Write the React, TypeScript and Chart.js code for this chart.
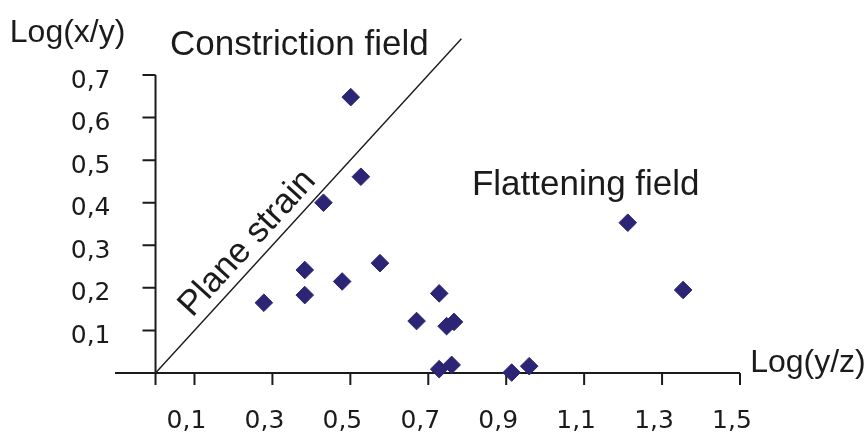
import React, { useEffect, useRef } from "react";
import { Chart, registerables } from "chart.js";

Chart.register(...registerables);

// Sample measurements: Log(y/z) vs Log(x/y)
const logYZ = [0.501, 0.527, 0.431, 0.576, 0.383, 0.479, 0.383, 0.278, 1.212, 1.354, 0.728, 0.670, 0.747, 0.766, 0.728, 0.760, 0.914, 0.959];
const logXY = [0.648, 0.461, 0.400, 0.258, 0.242, 0.215, 0.183, 0.165, 0.353, 0.195, 0.187, 0.122, 0.110, 0.120, 0.009, 0.019, 0.001, 0.016];

// Plane strain line (k = 1)
const planeStrainX = [0, 0.785];
const planeStrainY = [0, 0.785];

// Axis ticks
const xTickValues = [0.1, 0.3, 0.5, 0.7, 0.9, 1.1, 1.3, 1.5];
const xTickLabels = ["0,1", "0,3", "0,5", "0,7", "0,9", "1,1", "1,3", "1,5"];
const yTickValues = [0.1, 0.2, 0.3, 0.4, 0.5, 0.6, 0.7];
const yTickLabels = ["0,1", "0,2", "0,3", "0,4", "0,5", "0,6", "0,7"];

const xRange = [-0.104, 1.5];
const yRange = [-0.0282, 0.7];

const INK = "#1b1b1b";

const axesPlugin = {
  id: "customAxes",
  beforeDatasetsDraw(chart: any) {
    const { ctx, scales } = chart;
    const xs = scales.x;
    const ys = scales.y;
    const x0 = xs.getPixelForValue(0);
    const y0 = ys.getPixelForValue(0);
    ctx.save();
    ctx.strokeStyle = INK;
    ctx.lineWidth = 2;
    ctx.beginPath();
    ctx.moveTo(xs.getPixelForValue(xRange[0]), y0);
    ctx.lineTo(xs.getPixelForValue(xRange[1]), y0);
    ctx.moveTo(x0, ys.getPixelForValue(yRange[0]));
    ctx.lineTo(x0, ys.getPixelForValue(yRange[1]));
    xTickValues.forEach((v) => {
      const px = xs.getPixelForValue(v);
      ctx.moveTo(px, y0);
      ctx.lineTo(px, y0 + 12);
    });
    yTickValues.forEach((v) => {
      const py = ys.getPixelForValue(v);
      ctx.moveTo(x0 - 13, py);
      ctx.lineTo(x0, py);
    });
    ctx.stroke();

    ctx.fillStyle = INK;
    ctx.font = '25px "DejaVu Sans"';
    ctx.textBaseline = "alphabetic";
    ctx.textAlign = "center";
    xTickValues.forEach((v, i) => {
      ctx.fillText(xTickLabels[i], xs.getPixelForValue(v) - 8, y0 + 55);
    });
    ctx.textAlign = "right";
    yTickValues.forEach((v, i) => {
      ctx.fillText(yTickLabels[i], x0 - 45, ys.getPixelForValue(v) + 12.5);
    });

    ctx.textAlign = "left";
    ctx.font = '32px "Liberation Sans"';
    ctx.fillText("Log(x/y)", xs.getPixelForValue(-0.374), ys.getPixelForValue(0.778));
    ctx.fillText("Log(y/z)", xs.getPixelForValue(1.526), ys.getPixelForValue(0.002));

    ctx.font = '35px "Liberation Sans"';
    ctx.fillText("Constriction field", xs.getPixelForValue(0.037), ys.getPixelForValue(0.748));
    ctx.fillText("Flattening field", xs.getPixelForValue(0.812), ys.getPixelForValue(0.418));

    const sx = xs.getPixelForValue(0.094);
    const sy = ys.getPixelForValue(0.129);
    const ang = Math.atan2(
      ys.getPixelForValue(0) - ys.getPixelForValue(1),
      xs.getPixelForValue(1) - xs.getPixelForValue(0)
    );
    ctx.translate(sx, sy);
    ctx.rotate(-ang);
    ctx.fillText("Plane strain", 0, 0);
    ctx.restore();
  },
};

export default function App() {
  const ref = useRef<HTMLCanvasElement | null>(null);
  useEffect(() => {
    document.body.style.margin = "0";
    document.body.style.background = "#ffffff";
    const canvas = ref.current;
    if (!canvas) return;
    const chart = new Chart(canvas, {
      type: "scatter",
      data: {
        datasets: [
          {
            type: "line",
            label: "Plane strain",
            data: planeStrainX.map((x, i) => ({ x, y: planeStrainY[i] })),
            borderColor: INK,
            borderWidth: 1.4,
            pointRadius: 0,
            fill: false,
            clip: false as any,
          },
          {
            label: "Samples",
            data: logYZ.map((x, i) => ({ x, y: logXY[i] })),
            pointStyle: "rectRot",
            pointRadius: 8.8,
            pointBackgroundColor: "#2c2474",
            pointBorderColor: "#2c2474",
            pointBorderWidth: 1,
            clip: false as any,
          },
        ],
      },
      options: {
        animation: false,
        responsive: false,
        devicePixelRatio: 1,
        layout: { padding: { left: 115, right: 128, top: 75, bottom: 47 } },
        plugins: { legend: { display: false }, tooltip: { enabled: false } },
        scales: {
          x: { type: "linear", min: xRange[0], max: xRange[1], display: false },
          y: { type: "linear", min: yRange[0], max: yRange[1], display: false },
        },
      },
      plugins: [axesPlugin],
    });
    return () => chart.destroy();
  }, []);
  return <canvas ref={ref} width={868} height={432} style={{ display: "block" }} />;
}
